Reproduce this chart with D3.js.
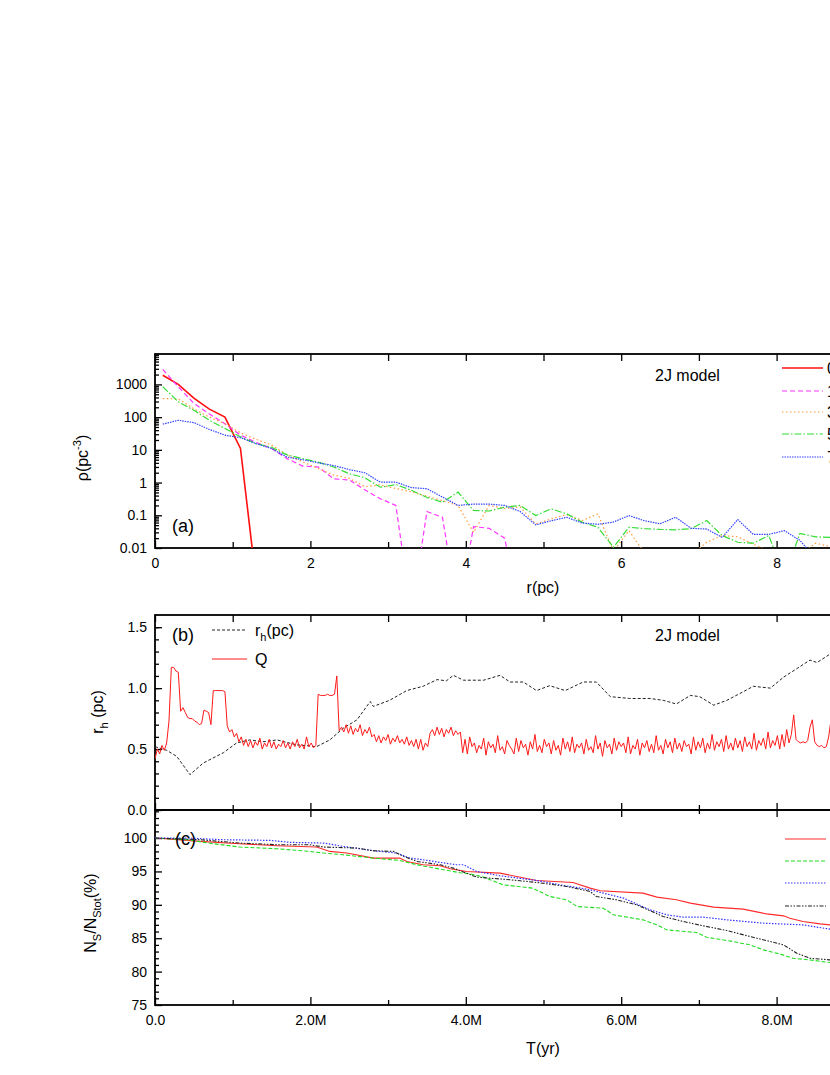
<!DOCTYPE html>
<html><head><meta charset="utf-8">
<script src="https://cdn.jsdelivr.net/npm/d3@7"></script>
<style>
body{margin:0;background:#fff;overflow:hidden}
svg{display:block}
text{font-family:Arial,"Liberation Sans",Helvetica,sans-serif;fill:#000}
</style>
</head><body>
<svg id="chart" width="830" height="1075"></svg>
<script>
// ---------- DATA ----------
// Panel (a): density profiles, radius grid in pc
const rGrid = [0.1,0.3,0.5,0.7,0.9,1.1,1.3,1.5,1.7,1.9,2.1,2.3,2.5,2.7,2.9,3.1,3.3,3.5,3.7,3.9,4.1,4.3,4.5,4.7,4.9,5.1,5.3,5.5,5.7,5.9,6.1,6.3,6.5,6.7,6.9,7.1,7.3,7.5,7.7,7.9,8.1,8.3,8.5,8.7,8.9];
const rhoT0 = [1900,1000,380,175,100,11,0.001];
const rhoT1 = [2880,850,263,125,63,28,17,11,5.4,3.2,3.0,1.3,1.2,0.6,0.32,0.2,0.0001,0.13,0.087,0.0001,0.045,0.04,0.02,0.0001];
const rhoT3 = [370,360,180,100,63,33,21,14,7,4.3,2.7,1.7,1.35,0.75,0.85,0.66,0.52,0.38,0.28,0.2,0.03,0.2,0.16,0.18,0.054,0.078,0.105,0.069,0.11,0.008,0.034,0.007,0.0001,0.0001,0.006,0.015,0.024,0.022,0.013,0.008,0.0005,0.006,0.014,0.011,0.01];
const rhoT5 = [850,293,163,80,45,25,15.5,12,7,5.4,4.2,3.0,1.86,1.4,0.72,0.87,0.58,0.35,0.25,0.51,0.14,0.135,0.176,0.2,0.098,0.157,0.11,0.061,0.043,0.0105,0.043,0.039,0.037,0.036,0.039,0.069,0.024,0.015,0.014,0.024,0.0013,0.028,0.022,0.021,0.02];
const rhoT7 = [61,80,68,42,28,23.6,15.5,11,6,5,4,3.3,2.5,2.0,1.03,1.03,0.7,0.65,0.36,0.2,0.22,0.22,0.2,0.13,0.051,0.068,0.087,0.058,0.053,0.062,0.098,0.068,0.055,0.087,0.04,0.038,0.021,0.074,0.026,0.026,0.034,0.017,0.005,0.003,0.003];
const legendA = ["0 Myr","1 Myr","3 Myr","5 Myr","7 Myr"];
const yTicksA = [0.01,0.1,1,10,100,1000];
const xTicksA = [0,2,4,6,8,10];

// Panel (b): half-mass radius and Q versus time (Myr)
const rhTime = [0.0,0.15,0.28,0.45,0.62,0.88,1.05,1.22,1.39,1.57,1.82,2.08,2.25,2.42,2.60,2.77,2.81,3.02,3.24,3.45,3.63,3.75,3.84,3.97,4.23,4.44,4.57,4.74,4.91,5.08,5.28,5.51,5.68,5.86,6.11,6.37,6.54,6.71,6.89,7.01,7.19,7.36,7.57,7.70,7.92,8.09,8.26,8.43,8.52,8.69,8.80];
const rhVal  = [0.52,0.49,0.44,0.29,0.385,0.47,0.55,0.575,0.56,0.575,0.535,0.52,0.575,0.67,0.74,0.89,0.85,0.90,0.98,1.015,1.07,1.06,1.105,1.065,1.065,1.105,1.05,1.05,0.98,1.02,0.98,1.05,1.05,0.93,0.915,0.915,0.90,0.87,0.94,0.93,0.86,0.90,0.97,1.015,1.0,1.09,1.16,1.23,1.21,1.28,1.27];
const qStep = 0.03; // Myr between successive Q samples, starting at T = 0
const qVal = [
0.42,0.50,0.46,0.53,0.49,0.55,0.73,1.17,1.17,1.14,1.13,0.81,0.84,0.80,0.76,0.75,0.75,0.73,0.72,0.70,
0.71,0.82,0.81,0.80,0.70,0.98,0.98,0.98,0.98,0.98,0.97,0.69,0.64,0.66,0.60,0.63,0.56,0.60,0.53,0.58,
0.52,0.57,0.51,0.56,0.53,0.59,0.50,0.55,0.52,0.58,0.51,0.56,0.50,0.54,0.52,0.57,0.51,0.55,0.50,0.56,
0.52,0.58,0.51,0.54,0.50,0.60,0.52,0.55,0.51,0.53,
0.95,0.94,0.94,0.94,0.95,0.94,0.94,0.95,1.10,0.65,
0.68,0.64,0.70,0.63,0.69,0.62,0.67,0.64,0.70,0.61,0.66,0.63,0.68,0.60,
0.62,0.56,0.61,0.55,0.60,0.57,0.62,0.54,0.59,0.56,0.61,0.55,0.58,0.54,0.60,0.53,0.57,0.52,0.58,
0.50,0.58,0.49,0.55,0.52,
0.63,0.66,0.61,0.68,0.62,0.67,0.60,0.66,0.63,0.68,0.61,0.65,0.62,0.64,
0.47,0.58,0.46,0.60,0.52,0.55,0.47,0.53,0.50,0.59,
0.45,0.56,0.51,0.54,0.47,0.61,0.49,0.52,0.46,0.57,
0.53,0.50,0.46,0.59,0.48,0.57,0.51,0.54,0.45,0.56,
0.50,0.62,0.48,0.53,0.47,0.58,0.52,0.55,0.46,0.57,
0.49,0.53,0.45,0.59,0.50,0.56,0.48,0.60,0.47,0.54,
0.51,0.55,0.46,0.58,0.49,0.52,0.47,0.61,0.50,0.55,
0.44,0.57,0.51,0.54,0.46,0.59,0.49,0.56,0.52,0.55,
0.47,0.60,0.46,0.53,0.50,0.58,0.45,0.55,0.51,0.57,
0.48,0.54,0.47,0.61,0.49,0.53,0.46,0.58,0.51,0.56,
0.47,0.59,0.50,0.55,0.48,0.57,0.52,0.54,0.46,0.60,
0.49,0.56,0.51,0.59,0.47,0.55,0.50,0.62,0.49,0.56,
0.52,0.58,0.48,0.61,0.50,0.55,0.49,0.59,0.51,0.57,
0.48,0.60,0.52,0.56,0.50,0.63,0.49,0.57,0.53,0.59,
0.50,0.64,0.51,0.57,0.53,0.61,0.50,0.62,0.52,0.66,
0.55,
0.62,0.78,0.58,0.56,0.55,0.56,0.55,0.57,0.68,0.74,0.56,0.53,0.52,0.53,0.51,0.52,0.60,0.74,0.60];

// Panel (c): surviving fraction (%) versus time (Myr)
const s1Time = [0,0.58,1.09,1.57,2.08,2.25,2.47,2.81,3.15,3.24,3.45,3.67,3.80,4.01,4.44,4.91,5.38,5.6,5.73,6.28,6.46,6.71,6.89,7.19,7.57,7.87,8.09,8.17,8.34,8.56,8.69,8.8];
const s1Val  = [100,99.5,99.15,98.85,98.65,98.0,97.75,97.0,97.0,96.5,96.0,95.85,95.4,95.0,94.75,93.65,93.35,92.5,92.1,91.75,91.15,90.75,90.25,89.65,89.35,88.65,88.35,88.0,87.5,87.15,87.0,86.9];
const s2Time = [0,0.41,0.75,1.09,1.57,1.99,2.17,2.42,2.81,3.15,3.37,3.67,3.93,4.05,4.23,4.48,4.86,5.08,5.3,5.43,5.77,5.9,6.28,6.46,6.59,6.97,7.1,7.44,7.66,7.83,8.04,8.21,8.43,8.69,8.8];
const s2Val  = [100,99.75,99.15,98.65,98.4,98.0,97.75,97.5,97.0,96.65,96.0,95.35,94.8,94.65,94.15,93.0,92.5,91.25,90.75,89.75,89.5,88.5,87.75,87.0,86.25,85.85,85.15,84.5,84.0,83.25,82.65,82.0,81.75,81.35,81.2];
const s3Time = [0,0.4,0.88,1.48,1.74,2.17,2.42,2.81,3.11,3.28,3.45,3.67,3.88,3.97,4.14,4.44,4.91,5.21,5.6,6.03,6.37,6.59,6.8,7.06,7.36,7.83,8.34,8.69,8.8];
const s3Val  = [100,100,99.75,99.65,99.35,99.25,98.75,98.1,97.75,97.0,96.75,96.35,96.0,96.0,95.0,94.35,93.65,93.0,92.25,91.0,89.25,88.5,88.15,88.15,87.75,87.25,87.0,86.35,86.2];
const s4Time = [0,0.58,1.09,1.57,1.99,2.17,2.6,2.81,3.07,3.2,3.37,3.67,3.84,4.14,4.57,4.91,5.3,5.6,5.68,5.94,6.2,6.54,6.8,7.06,7.36,7.66,7.92,8.09,8.26,8.43,8.69,8.8];
const s4Val  = [100,99.75,99.25,99.0,99.0,98.65,98.5,98.1,98.0,97.25,96.5,96.0,95.5,94.15,93.75,93.35,92.75,92.0,91.25,90.75,90.0,88.25,87.5,86.85,86.15,85.25,84.5,84.0,82.75,82.0,81.75,81.7];
const legendC = ["S1","S2","S3","S4"];
const xTicksT = [0,2,4,6,8,10];
const yTicksB = [0,0.5,1.0,1.5];
const yTicksC = [75,80,85,90,95,100];

// ---------- DRAWING ----------
const svg = d3.select("#chart");
svg.append("rect").attr("width",830).attr("height",1075).attr("fill","#fff");

const L = 155, R = 932;
const x = d3.scaleLinear().domain([0,10]).range([L,R]);
const A = {top:354, bot:548}, B = {top:615, bot:810}, C = {top:810, bot:1005};
const yA = d3.scaleLog().domain([0.01,8500]).range([A.bot,A.top]);
const yB = d3.scaleLinear().domain([0,1.6]).range([B.bot,B.top]);
const yC = d3.scaleLinear().domain([75,104.2]).range([C.bot,C.top]);

const defs = svg.append("defs");
[["clipA",A],["clipB",B],["clipC",C]].forEach(([id,p])=>{
  defs.append("clipPath").attr("id",id).append("rect")
    .attr("x",L).attr("y",p.top).attr("width",R-L).attr("height",p.bot-p.top);
});

function styleAxis(g){
  g.select(".domain").remove();
  g.selectAll(".tick line").attr("stroke","#000").attr("stroke-width",1.3);
  g.selectAll(".tick text").attr("font-size",14).attr("fill","#000")
    .attr("font-family","Arial, 'Liberation Sans', sans-serif");
}
function axis(gen, tx, ty){
  const g = svg.append("g").attr("transform",`translate(${tx},${ty})`).call(gen);
  styleAxis(g);
  return g;
}

// ---- Panel (a) ----
const minorLog = [];
[0.01,0.1,1,10,100,1000].forEach(d=>{for(let k=2;k<=9;k++){const v=d*k; if(v<=8500) minorLog.push(v);}});
axis(d3.axisLeft(yA).tickValues(yTicksA).tickSize(-7).tickPadding(8).tickFormat(d=>String(d)), L, 0);
axis(d3.axisLeft(yA).tickValues(minorLog).tickSize(-4).tickFormat(""), L, 0);
axis(d3.axisBottom(x).tickValues(xTicksA).tickSize(-7).tickPadding(10).tickFormat(d3.format("d")), 0, A.bot);
axis(d3.axisBottom(x).tickValues([1,3,5,7,9]).tickSize(-6).tickFormat(""), 0, A.bot);
axis(d3.axisTop(x).tickValues(d3.range(0,11)).tickSize(-7).tickFormat(""), 0, A.top);
svg.append("rect").attr("x",L).attr("y",A.top).attr("width",R-L).attr("height",A.bot-A.top)
  .attr("fill","none").attr("stroke","#000").attr("stroke-width",1.8);

const seriesA = [
  {v:rhoT0, c:"#ff1010", w:1.6, d:null},
  {v:rhoT1, c:"#ff33ff", w:1.2, d:"5,3"},
  {v:rhoT3, c:"#ff9a3c", w:1.2, d:"1.5,2.5"},
  {v:rhoT5, c:"#33dd33", w:1.2, d:"7,2,1.5,2"},
  {v:rhoT7, c:"#3344ff", w:1.2, d:"1.5,1"}
];
const lineA = d3.line().x((d,i)=>x(rGrid[i])).y(d=>yA(d));
const gA = svg.append("g").attr("clip-path","url(#clipA)");
seriesA.forEach(s=>{
  gA.append("path").datum(s.v).attr("d",lineA).attr("fill","none")
    .attr("stroke",s.c).attr("stroke-width",s.w).attr("stroke-dasharray",s.d);
});
const legA = [368,391,412,434,457];
seriesA.forEach((s,i)=>{
  svg.append("line").attr("x1",782).attr("x2",823).attr("y1",legA[i]).attr("y2",legA[i])
    .attr("stroke",s.c).attr("stroke-width",s.w).attr("stroke-dasharray",s.d);
  svg.append("text").attr("x",827).attr("y",legA[i]+6).attr("font-size",16).text(legendA[i]);
});
svg.append("text").attr("x",655).attr("y",381).attr("font-size",16).text("2J model");
svg.append("text").attr("x",172).attr("y",532).attr("font-size",18).text("(a)");
svg.append("text").attr("x",543).attr("y",593).attr("font-size",16).attr("text-anchor","middle").text("r(pc)");
const yla = svg.append("text").attr("transform","translate(88,458) rotate(-90)")
  .attr("font-size",16).attr("text-anchor","middle");
yla.append("tspan").text("\u03c1(pc");
yla.append("tspan").attr("dy",-7).attr("font-size",11).text("-3");
yla.append("tspan").attr("dy",7).text(")");

// ---- Panel (b) ----
axis(d3.axisLeft(yB).tickValues(yTicksB).tickSize(-7).tickPadding(8).tickFormat(d3.format(".1f")), L, 0);
axis(d3.axisLeft(yB).tickValues(d3.range(1,16).map(d=>d/10)).tickSize(-4).tickFormat(""), L, 0);
axis(d3.axisTop(x).tickValues(d3.range(0,11)).tickSize(-7).tickFormat(""), 0, B.top);
// shared axis between (b) and (c): ticks crossing the line
axis(d3.axisTop(x).tickValues(xTicksT).tickSize(7).tickFormat(""), 0, B.bot);
axis(d3.axisBottom(x).tickValues(xTicksT).tickSize(7).tickFormat(""), 0, B.bot);
axis(d3.axisTop(x).tickValues([1,3,5,7,9]).tickSize(5).tickFormat(""), 0, B.bot);
axis(d3.axisBottom(x).tickValues([1,3,5,7,9]).tickSize(4).tickFormat(""), 0, B.bot);
svg.append("rect").attr("x",L).attr("y",B.top).attr("width",R-L).attr("height",B.bot-B.top)
  .attr("fill","none").attr("stroke","#000").attr("stroke-width",1.8);

const gB = svg.append("g").attr("clip-path","url(#clipB)");
gB.append("path").datum(rhVal)
  .attr("d",d3.line().x((d,i)=>x(rhTime[i])).y(d=>yB(d)))
  .attr("fill","none").attr("stroke","#222").attr("stroke-width",1).attr("stroke-dasharray","3,2");
gB.append("path").datum(qVal)
  .attr("d",d3.line().x((d,i)=>x(i*qStep)).y(d=>yB(d)))
  .attr("fill","none").attr("stroke","#ff1a1a").attr("stroke-width",1);

svg.append("text").attr("x",172).attr("y",641).attr("font-size",18).text("(b)");
svg.append("line").attr("x1",212).attr("x2",247).attr("y1",630).attr("y2",630)
  .attr("stroke","#222").attr("stroke-width",1).attr("stroke-dasharray","3,2");
const lb1 = svg.append("text").attr("x",255).attr("y",636).attr("font-size",16);
lb1.append("tspan").text("r");
lb1.append("tspan").attr("dy",5).attr("font-size",11).text("h");
lb1.append("tspan").attr("dy",-5).text("(pc)");
svg.append("line").attr("x1",212).attr("x2",247).attr("y1",659).attr("y2",659)
  .attr("stroke","#ff1a1a").attr("stroke-width",1);
svg.append("text").attr("x",255).attr("y",665).attr("font-size",16).text("Q");
svg.append("text").attr("x",655).attr("y",641).attr("font-size",16).text("2J model");
const ylb = svg.append("text").attr("transform","translate(103,712) rotate(-90)")
  .attr("font-size",16).attr("text-anchor","middle");
ylb.append("tspan").text("r");
ylb.append("tspan").attr("dy",5).attr("font-size",11).text("h");
ylb.append("tspan").attr("dy",-5).text(" (pc)");

// ---- Panel (c) ----
axis(d3.axisLeft(yC).tickValues(yTicksC).tickSize(-7).tickPadding(8).tickFormat(d3.format("d")), L, 0);
axis(d3.axisLeft(yC).tickValues(d3.range(76,105).filter(d=>d%5!==0)).tickSize(-4).tickFormat(""), L, 0);
axis(d3.axisBottom(x).tickValues(xTicksT).tickSize(-8).tickPadding(10)
  .tickFormat(d=>d===0?"0.0":d.toFixed(1)+"M"), 0, C.bot);
axis(d3.axisBottom(x).tickValues([1,3,5,7,9]).tickSize(-5).tickFormat(""), 0, C.bot);
svg.append("rect").attr("x",L).attr("y",C.top).attr("width",R-L).attr("height",C.bot-C.top)
  .attr("fill","none").attr("stroke","#000").attr("stroke-width",1.8);

const seriesC = [
  {t:s1Time, v:s1Val, c:"#ff2a2a", w:1.1, d:null},
  {t:s2Time, v:s2Val, c:"#22dd22", w:1.1, d:"4,2"},
  {t:s3Time, v:s3Val, c:"#3333ff", w:1.2, d:"1.5,1.5"},
  {t:s4Time, v:s4Val, c:"#222222", w:1.1, d:"4,1.5,1.5,1.5,1.5,1.5"}
];
const gC = svg.append("g").attr("clip-path","url(#clipC)");
seriesC.forEach(s=>{
  gC.append("path").datum(s.v)
    .attr("d",d3.line().x((d,i)=>x(s.t[i])).y(d=>yC(d)))
    .attr("fill","none").attr("stroke",s.c).attr("stroke-width",s.w).attr("stroke-dasharray",s.d);
});
const legC = [839,861,883,906];
seriesC.forEach((s,i)=>{
  svg.append("line").attr("x1",785).attr("x2",826).attr("y1",legC[i]).attr("y2",legC[i])
    .attr("stroke",s.c).attr("stroke-width",s.w).attr("stroke-dasharray",s.d);
  svg.append("text").attr("x",832).attr("y",legC[i]+6).attr("font-size",16).text(legendC[i]);
});
svg.append("text").attr("x",175).attr("y",845).attr("font-size",18).text("(c)");
svg.append("text").attr("x",543).attr("y",1054).attr("font-size",16).attr("text-anchor","middle").text("T(yr)");
const ylc = svg.append("text").attr("transform","translate(96,913) rotate(-90)")
  .attr("font-size",16).attr("text-anchor","middle");
ylc.append("tspan").text("N");
ylc.append("tspan").attr("dy",5).attr("font-size",11).text("S");
ylc.append("tspan").attr("dy",-5).text("/N");
ylc.append("tspan").attr("dy",5).attr("font-size",11).text("Stot");
ylc.append("tspan").attr("dy",-5).text("(%)");
</script>
</body></html>
